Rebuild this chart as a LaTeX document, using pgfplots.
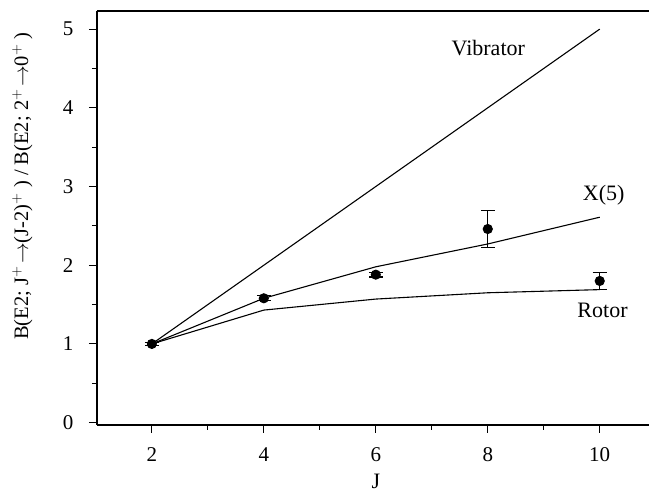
\documentclass[border=0pt]{standalone}
\usepackage{pgfplots}
\pgfplotsset{compat=1.18}
\usepackage{fontspec}
\setmainfont{Liberation Serif}

\begin{document}
\begin{tikzpicture}
\path[use as bounding box] (-97pt,-68pt) rectangle (552pt,425pt);
\begin{axis}[
    scale only axis,
    width=552pt, height=414pt,
    xmin=1.02, xmax=10.88, ymin=-0.03, ymax=5.23,
    axis y line*=left,
    axis line style={line width=1.1pt},
    xtick={2,4,6,8,10}, ytick={0,1,2,3,4,5},
    minor x tick num=1, minor y tick num=1,
    xtick pos=bottom, ytick pos=left,
    tick align=outside,
    major tick length=8pt, minor tick length=5pt,
    every tick/.style={line width=1pt, black},
    tick label style={font=\fontsize{21}{24}\selectfont},
    /pgf/number format/assume math mode=true,
    xticklabel style={yshift=-11pt},
    yticklabel style={anchor=east, xshift=-12pt},
    xlabel={J},
    xlabel style={font=\fontsize{22}{24}\selectfont, at={(axis cs:6,-0.03)}, anchor=north, yshift=-46pt},
    ylabel={B(E2; J$^{+}\!\rightarrow$(J-2)$^{+}$ ) / B(E2; 2$^{+}\!\rightarrow$0$^{+}$ )},
    ylabel style={font=\fontsize{20.5}{24}\selectfont, at={(axis description cs:0,0.577)}, anchor=south, yshift=61pt},
    every axis plot/.append style={line width=1.1pt, black},
    clip=false,
]
% Vibrator
\addplot[no marks] coordinates {(2,1) (4,2) (6,3) (8,4) (10,5)};
% X(5)
\addplot[no marks] coordinates {(2,1) (4,1.58) (6,1.98) (8,2.27) (10,2.61)};
% Rotor
\addplot[no marks] coordinates {(2,1) (4,1.43) (6,1.57) (8,1.65) (10,1.69)};
% experiment
\addplot[only marks, mark=*, mark size=4.5pt, mark options={fill=black},
    error bars/.cd, y dir=both, y explicit,
    error bar style={line width=1.1pt},
    error mark options={mark size=7pt, line width=1.1pt, rotate=90}]
  coordinates {
    (2,1.00) +- (0,0.02)
    (4,1.58) +- (0,0.03)
    (6,1.88) +- (0,0.03)
    (8,2.46) +- (0,0.23)
    (10,1.80) +- (0,0.11)
  };
\node[font=\fontsize{22}{24}\selectfont] at (axis cs:8.01,4.76) {Vibrator};
\node[font=\fontsize{22}{24}\selectfont] at (axis cs:10.07,2.89) {X(5)};
\node[font=\fontsize{22}{24}\selectfont] at (axis cs:10.05,1.42) {Rotor};
\end{axis}
\end{tikzpicture}
\end{document}
